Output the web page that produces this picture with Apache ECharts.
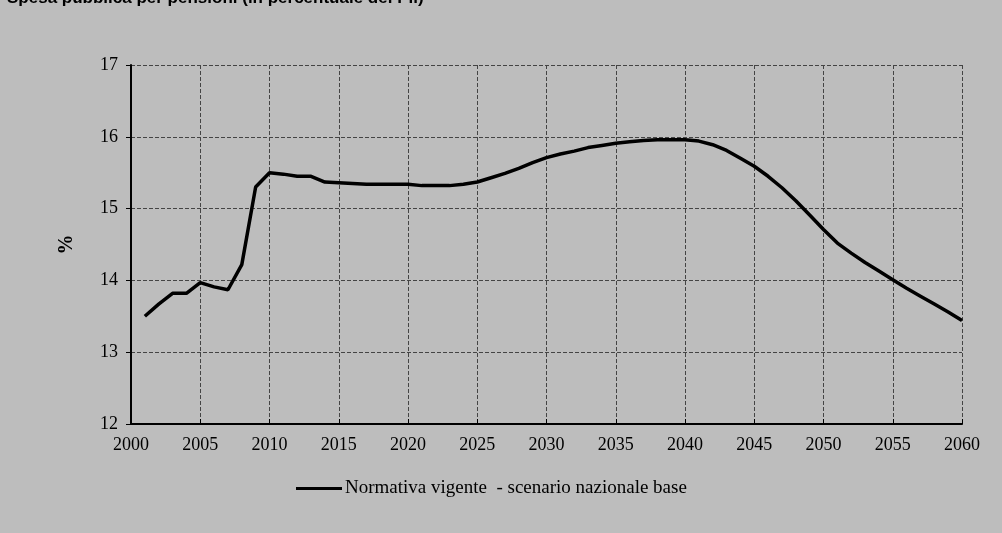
<!DOCTYPE html>
<html>
<head>
<meta charset="UTF-8">
<title>Spesa pubblica per pensioni</title>
<script src="https://cdn.jsdelivr.net/npm/echarts@6/dist/echarts.min.js"></script>
<style>
  html, body { margin: 0; padding: 0; background: #bdbdbd; }
  #main { width: 1002px; height: 533px; }
</style>
</head>
<body>
<div id="main"></div>
<script>
// anni 2001-2060
var years = [];
for (var y = 2001; y <= 2060; y++) years.push(y);

// spesa pensionistica in % del PIL
var spesa = [
  13.50, 13.67, 13.82, 13.82, 13.97, 13.91, 13.87, 14.22, 15.30, 15.50,
  15.48, 15.45, 15.45, 15.37, 15.36, 15.35, 15.34, 15.34, 15.34, 15.34,
  15.32, 15.32, 15.32, 15.34, 15.37, 15.43, 15.49, 15.56, 15.64, 15.71,
  15.76, 15.80, 15.85, 15.88, 15.91, 15.93, 15.95, 15.96, 15.96, 15.96,
  15.94, 15.89, 15.81, 15.70, 15.59, 15.45, 15.29, 15.11, 14.91, 14.71,
  14.52, 14.38, 14.25, 14.13, 14.01, 13.89, 13.78, 13.67, 13.56, 13.44
];

var serieName = 'Normativa vigente  - scenario nazionale base';

var chart = echarts.init(document.getElementById('main'));

var option = {
  backgroundColor: '#bdbdbd',
  animation: false,
  title: {
    text: 'Spesa pubblica per pensioni (in percentuale del Pil)',
    left: 2, top: -15,
    textStyle: { fontFamily: 'Liberation Sans', fontWeight: 'bold', fontSize: 17, color: '#000' }
  },
  legend: {
    data: [serieName],
    left: 291, top: 474,
    itemWidth: 46, itemHeight: 3, itemGap: 4,
    icon: 'rect',
    textStyle: { fontFamily: 'Liberation Serif', fontSize: 19, color: '#000', padding: [0, 0, 0, -2] }
  },
  grid: { left: 131, right: 40, top: 65, bottom: 109 },
  xAxis: {
    type: 'value',
    min: 2000, max: 2060, interval: 5,
    axisLine: { lineStyle: { color: '#000', width: 2 } },
    axisTick: { show: true, inside: true, length: 5, lineStyle: { color: '#000' } },
    axisLabel: {
      fontFamily: 'Liberation Serif', fontSize: 18, color: '#000', margin: 12,
      formatter: function (v) { return String(v); }
    },
    splitLine: { show: true, lineStyle: { color: '#444', type: 'dashed', width: 1 } }
  },
  yAxis: {
    type: 'value',
    min: 12, max: 17, interval: 1,
    name: '%',
    nameLocation: 'middle',
    nameGap: 54,
    nameTextStyle: { fontFamily: 'Liberation Serif', fontWeight: 'bold', fontSize: 20, color: '#000' },
    axisLine: { show: true, lineStyle: { color: '#000', width: 2 } },
    axisTick: { show: true, length: 5, lineStyle: { color: '#000' } },
    axisLabel: { fontFamily: 'Liberation Serif', fontSize: 18, color: '#000', margin: 13 },
    splitLine: { show: true, lineStyle: { color: '#444', type: 'dashed', width: 1 } }
  },
  series: [{
    name: serieName,
    type: 'line',
    data: years.map(function (y, i) { return [y, spesa[i]]; }),
    showSymbol: false,
    smooth: false,
    lineStyle: { color: '#000', width: 3.5 },
    itemStyle: { color: '#000' }
  }]
};

chart.setOption(option);
</script>
</body>
</html>
